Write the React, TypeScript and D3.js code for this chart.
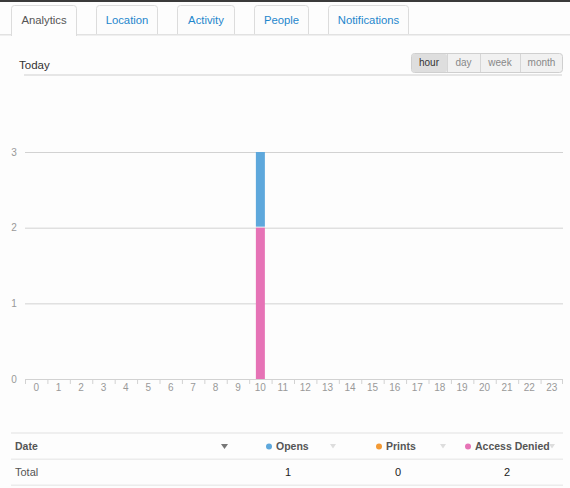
import React from "react";
import * as d3 from "d3";

const tabs = ["Analytics", "Location", "Activity", "People", "Notifications"];
const ranges = ["hour", "day", "week", "month"];
const hours = ["0","1","2","3","4","5","6","7","8","9","10","11","12","13","14","15","16","17","18","19","20","21","22","23"];
const opens = [0,0,0,0,0,0,0,0,0,0,1,0,0,0,0,0,0,0,0,0,0,0,0,0];
const prints = [0,0,0,0,0,0,0,0,0,0,0,0,0,0,0,0,0,0,0,0,0,0,0,0];
const accessDenied = [0,0,0,0,0,0,0,0,0,0,2,0,0,0,0,0,0,0,0,0,0,0,0,0];
const yTicks = [0, 1, 2, 3];
const seriesNames = ["Opens", "Prints", "Access Denied"];
const totals = [1, 0, 2];

const FONT = "'Liberation Sans', Arial, Helvetica, sans-serif";
const COLORS: Record<string, string> = { "Opens": "#5ea8dc", "Prints": "#f39a35", "Access Denied": "#e673b6" };

export default function App() {
  const W = 570, H = 488;
  const x = d3.scaleBand<string>().domain(hours).range([25, 563]).padding(0);
  const y = d3.scaleLinear().domain([0, 3]).range([379, 152]);
  const rows = hours.map((h, i) => ({ hour: h, "Access Denied": accessDenied[i], "Opens": opens[i], "Prints": prints[i] }));
  const stack = d3.stack<any>().keys(["Access Denied", "Opens", "Prints"])(rows);
  const bw = 9;

  const tabBoxes = [
    { x0: 11, x1: 77 }, { x0: 96, x1: 158 }, { x0: 177, x1: 235 }, { x0: 254, x1: 309 }, { x0: 328, x1: 409 },
  ];
  const btn = [
    { x0: 411, x1: 447 }, { x0: 447, x1: 480 }, { x0: 480, x1: 520 }, { x0: 520, x1: 563 },
  ];
  const legendPos = [
    { dot: 269, arrow: 333, val: 288 },
    { dot: 379, arrow: 443, val: 398 },
    { dot: 468, arrow: 552, val: 507 },
  ];

  return (
    <div style={{ position: "fixed", left: 0, top: 0, width: W, height: H, background: "#fdfdfd" }}>
      <svg width={W} height={H} style={{ display: "block", fontFamily: FONT }}>
        <rect x={0} y={0} width={W} height={H} fill="#fdfdfd" />
        <rect x={0} y={0} width={W} height={2} fill="#3a3a3a" />
        <rect x={0} y={34} width={W} height={1.5} fill="#e2e2e2" />
        {tabs.map((t, i) => {
          const b = tabBoxes[i];
          const active = i === 0;
          const bottom = active ? 36 : 34;
          const r = 3;
          const d = `M${b.x0 + 0.5},${bottom} L${b.x0 + 0.5},${5.5 + r} Q${b.x0 + 0.5},5.5 ${b.x0 + 0.5 + r},5.5 L${b.x1 - 0.5 - r},5.5 Q${b.x1 - 0.5},5.5 ${b.x1 - 0.5},${5.5 + r} L${b.x1 - 0.5},${bottom}`;
          return (
            <g key={t}>
              <path d={d + " Z"} fill={active ? "#fdfdfd" : "#fcfcfc"} stroke="none" />
              <path d={d} fill="none" stroke="#dcdcdc" strokeWidth={1} />
              <text x={(b.x0 + b.x1) / 2} y={24} textAnchor="middle" fontSize={11.3} fill={active ? "#555" : "#1f87cc"}>{t}</text>
            </g>
          );
        })}
        <text x={19} y={69} fontSize={11.5} fill="#333">Today</text>
        <rect x={24} y={74.5} width={538} height={1} fill="#cfcfcf" />
        <rect x={411.5} y={53.5} width={151} height={19} rx={3} fill="#f1f1f1" stroke="#cfcfcf" />
        <rect x={412} y={54} width={35} height={18} rx={2} fill="#dedede" />
        {btn.map((b, i) => (
          <g key={ranges[i]}>
            {i > 0 && <line x1={b.x0 + 0.5} x2={b.x0 + 0.5} y1={54} y2={72} stroke="#d6d6d6" />}
            <text x={(b.x0 + b.x1) / 2} y={66} textAnchor="middle" fontSize={10} fill={i === 0 ? "#333" : "#888"}>{ranges[i]}</text>
          </g>
        ))}
        {yTicks.map((t) => (
          <g key={t}>
            {t > 0 && <line x1={25} x2={563} y1={y(t) + 0.5} y2={y(t) + 0.5} stroke="#d2d2d2" />}
            <text x={14} y={y(t) + 3.5} textAnchor="middle" fontSize={10} fill="#999">{t}</text>
          </g>
        ))}
        {stack.map((s) => (
          <g key={s.key}>
            {s.map((d, i) => {
              const h = y(d[0]) - y(d[1]);
              if (h <= 0) return null;
              const isTopSeg = s.key === "Opens";
              return (
                <rect key={i} x={(x(hours[i]) as number) + x.bandwidth() / 2 - bw / 2}
                  y={y(d[1])} width={bw} height={isTopSeg ? h - 1 : h} fill={COLORS[s.key]} />
              );
            })}
          </g>
        ))}
        <line x1={25} x2={563} y1={379.5} y2={379.5} stroke="#d2d2d2" />
        {hours.map((h) => (
          <g key={h}>
            <line x1={(x(h) as number) + 0.5} x2={(x(h) as number) + 0.5} y1={379} y2={384} stroke="#d2d2d2" />
            <text x={(x(h) as number) + x.bandwidth() / 2} y={391} textAnchor="middle" fontSize={10} fill="#999">{h}</text>
          </g>
        ))}
        <line x1={562.5} x2={562.5} y1={379} y2={384} stroke="#d2d2d2" />
        <rect x={11} y={432} width={552} height={2} fill="#efefef" />
        <rect x={11} y={458.5} width={552} height={1.5} fill="#ececec" />
        <rect x={11} y={484.5} width={552} height={1.5} fill="#ececec" />
        <text x={15} y={450} fontSize={10.5} fontWeight="bold" fill="#555">Date</text>
        <path d="M221,444 L228,444 L224.5,449 Z" fill="#777" />
        {seriesNames.map((n, i) => (
          <g key={n}>
            <circle cx={legendPos[i].dot} cy={446.5} r={3} fill={COLORS[n]} />
            <text x={legendPos[i].dot + 7} y={450} fontSize={10.5} fontWeight="bold" fill="#555">{n}</text>
            <path d={`M${legendPos[i].arrow - 3},444 L${legendPos[i].arrow + 3},444 L${legendPos[i].arrow},448.5 Z`} fill="#ddd" />
            <text x={legendPos[i].val} y={476} textAnchor="middle" fontSize={11} fill="#222">{totals[i]}</text>
          </g>
        ))}
        <text x={15} y={476} fontSize={11} fill="#555">Total</text>
      </svg>
    </div>
  );
}
